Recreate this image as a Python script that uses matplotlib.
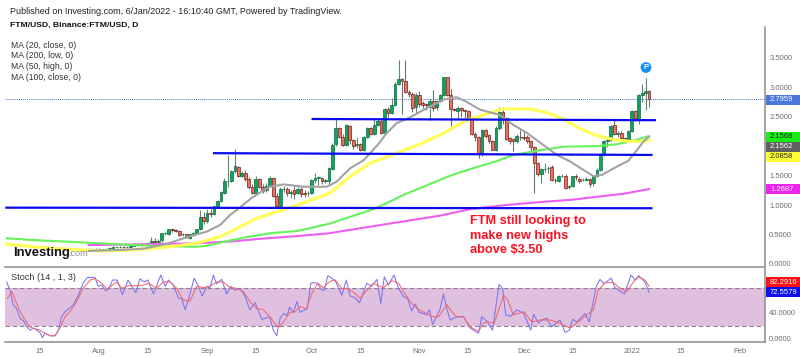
import matplotlib
matplotlib.use("Agg")
import matplotlib.pyplot as plt
from matplotlib.patches import Rectangle

plt.rcParams['font.family'] = ['Liberation Sans', 'DejaVu Sans']

# ---------- data (days counted from 15 Jul 2021) ----------
first_day = 14
opens = [.25,.26,.25,.26,.25,.25,.26,.26,.28,.28,.29,.28,.29,.31,.33,.32,.34,.33,
 .35,.39,.38,.40,.52,.50,.59,.58,.56,.50,.50,.44,.49,.52,.59,.80,.72,.87,.85,
 .98,1.07,1.21,1.40,1.41,1.57,1.65,1.50,1.55,1.44,1.31,1.21,1.44,1.31,1.25,1.33,1.45,1.16,.98,1.27,1.27,1.21,1.25,1.20,1.28,1.21,1.20,1.21,1.42,1.46,1.46,1.40,1.40,
 1.61,2.03,2.30,2.16,2.02,2.34,2.10,2.02,2.03,1.93,2.15,2.30,2.21,2.36,2.43,2.23,2.63,2.56,2.70,3.05,3.14,3.11,2.92,2.88,2.66,2.87,2.73,2.72,2.66,2.77,2.66,2.77,2.87,3.17,2.87,2.63,2.60,2.64,2.62,2.60,2.46,2.21,2.15,1.86,2.27,2.18,2.08,1.94,2.31,2.58,2.48,2.13,2.12,2.09,2.16,2.15,2.15,2.08,1.99,1.72,
 1.53,1.61,1.62,1.65,1.43,1.41,1.49,1.49,1.30,1.32,1.49,1.44,1.42,1.43,1.44,1.37,1.49,1.60,1.86,2.08,2.11,2.35,2.20,2.23,2.13,2.11,2.26,2.60,2.45,2.87,2.90,2.94]
closes = [.26,.25,.26,.25,.25,.26,.26,.28,.28,.29,.28,.29,.31,.33,.32,.34,.33,.35,
 .39,.38,.39,.52,.52,.59,.58,.56,.49,.50,.45,.50,.53,.59,.80,.72,.87,.85,.98,
 1.07,1.22,1.40,1.41,1.57,1.67,1.50,1.55,1.44,1.31,1.21,1.44,1.31,1.24,1.33,1.45,1.16,.98,1.27,1.27,1.21,1.22,1.18,1.27,1.19,1.19,1.20,1.42,1.46,1.46,1.40,1.42,1.62,
 2.02,2.30,2.16,2.02,2.35,2.10,2.00,2.02,1.93,2.15,2.30,2.21,2.36,2.43,2.23,2.63,2.56,2.70,3.05,3.14,3.10,2.92,2.88,2.64,2.87,2.71,2.69,2.70,2.77,2.65,2.77,2.87,3.17,2.87,2.63,2.61,2.64,2.61,2.60,2.47,2.21,2.15,1.86,2.27,2.17,2.08,1.94,2.31,2.58,2.48,2.12,2.09,2.08,2.17,2.15,2.14,2.08,1.99,1.72,1.53,
 1.61,1.61,1.63,1.43,1.42,1.49,1.50,1.29,1.32,1.49,1.47,1.40,1.43,1.44,1.36,1.49,1.60,1.86,2.08,2.11,2.34,2.20,2.23,2.13,2.11,2.26,2.60,2.48,2.87,2.90,2.94,2.80]
highs = [.27,.27,.27,.27,.26,.27,.28,.30,.29,.31,.30,.31,.33,.35,.35,.36,.36,.37,
 .46,.44,.43,.53,.55,.60,.61,.60,.57,.52,.51,.51,.55,.60,.92,.88,.94,.94,.99,
 1.09,1.24,1.45,1.85,1.60,1.95,1.67,1.58,1.60,1.48,1.36,1.50,1.46,1.35,1.38,1.50,1.47,1.20,1.30,1.33,1.30,1.25,1.32,1.30,1.30,1.25,1.24,1.44,1.54,1.50,1.48,1.44,1.64,
 2.05,2.46,2.33,2.20,2.37,2.36,2.12,2.15,2.05,2.17,2.32,2.33,2.46,2.46,2.46,2.65,2.66,2.82,3.08,3.47,3.16,3.47,2.95,2.92,2.90,2.93,2.76,2.74,2.80,2.95,2.79,2.89,3.17,3.18,2.97,2.65,2.68,2.66,2.63,2.61,2.48,2.24,2.17,2.29,2.29,2.20,2.10,2.34,2.66,2.66,2.50,2.16,2.14,2.20,2.27,2.25,2.18,2.10,2.00,1.73,
 1.63,1.72,1.66,1.68,1.46,1.51,1.53,1.52,1.34,1.50,1.52,1.48,1.46,1.48,1.46,1.50,1.62,1.88,2.10,2.15,2.36,2.44,2.26,2.25,2.15,2.28,2.62,2.62,2.89,3.05,3.16,2.95]
lows = [.24,.24,.24,.24,.24,.24,.25,.25,.27,.27,.27,.27,.28,.30,.31,.31,.32,.32,
 .33,.36,.37,.38,.49,.49,.55,.54,.48,.48,.44,.42,.47,.50,.57,.68,.70,.80,.83,
 .96,1.05,1.19,1.30,1.39,1.55,1.48,1.48,1.40,1.28,1.18,1.19,1.29,1.20,1.22,1.30,1.14,.96,.96,1.22,1.15,1.12,1.10,1.18,1.14,1.14,1.16,1.19,1.38,1.34,1.36,1.37,1.36,
 1.60,2.00,2.13,2.00,2.00,2.03,1.95,1.97,1.91,1.91,2.13,2.19,2.19,2.34,2.21,2.21,2.50,2.54,2.68,3.03,2.55,2.90,2.84,2.58,2.57,2.67,2.64,2.62,2.44,2.60,2.62,2.75,2.85,2.85,2.34,2.60,2.46,2.50,2.47,2.44,2.19,2.08,1.80,1.83,2.13,2.05,1.93,1.92,2.28,2.38,2.10,2.04,1.92,2.05,2.10,2.10,2.05,1.92,1.21,1.50,
 1.37,1.56,1.55,1.41,1.38,1.39,1.47,1.27,1.28,1.30,1.42,1.37,1.40,1.40,1.31,1.33,1.47,1.58,1.84,1.98,2.08,2.18,2.15,2.10,2.05,2.08,2.24,2.42,2.38,2.75,2.62,2.67]

ma20_days = [14,24,30,34,38,42,48,51.7,54.6,57.5,61,66,70,75.7,82.4,85.3,89,93,97,99.6,102.5,106.4,111,116,119.7,122.6,126.4,132,136,140,144.6,148.5,152.3,156,159,161.4,165.7,169,171.5,173.4,175]
ma20_vals = [.22,.24,.26,.31,.37,.45,.55,.66,.83,.96,1.13,1.31,1.35,1.31,1.31,1.40,1.62,1.76,2.02,2.22,2.39,2.49,2.64,2.79,2.83,2.75,2.62,2.53,2.36,2.22,2.02,1.85,1.74,1.60,1.49,1.51,1.65,1.75,1.93,2.08,2.16]
ma50_days = [-10,-2,8,17,27,35.5,45,51.7,56.5,62,69,74,83.3,89,94.8,102.5,109,116,122.6,127.4,133,140.8,145.6,150.4,155,159.8,164.6,169.4,173,175]
ma50_vals = [.34,.29,.25,.22,.235,.28,.35,.46,.60,.77,.90,1.0,1.20,1.48,1.71,1.88,2.03,2.22,2.44,2.53,2.63,2.63,2.57,2.46,2.30,2.18,2.115,2.08,2.08,2.10]
ma100_days = [-9.5,-2,8,17,27,36,45,48,54,59,66,74,83,95.8,99.6,104.4,111,117,123.6,131,136,143.7,150.4,160,165.7,171.5,175]
ma100_vals = [.435,.405,.377,.35,.32,.30,.29,.31,.39,.45,.52,.56,.68,.93,1.03,1.17,1.33,1.48,1.61,1.74,1.85,1.93,1.99,2.00,2.03,2.11,2.17]
ma200_days = [14,27,35.5,45,54.6,64,73.5,83,100,115,123.6,134,143.7,153,160,167.6,175]
ma200_vals = [.32,.33,.34,.35,.38,.43,.47,.52,.68,.82,.93,1.0,1.05,1.09,1.14,1.19,1.27]

k_days = [-9.6,-8.6,-7.7,-6.7,-5.7,-4.8,-3.8,-2.9,-1.9,-1,0,.7,1.4,2.9,4.3,5.3,6.2,7.2,8.1,9.6,11,12.4,13.6,15.8,16.7,17.7,18.9,19.9,20.8,22.2,23.7,25.3,27.5,28.7,29.9,31,32.6,34.7,36,36.9,38.3,39.8,40.7,41.7,42.6,44.3,45.5,46.6,47.9,48.8,49.8,50.7,52.2,53.6,54.8,56,57.5,58.9,60.3,61.8,63.7,66,67,68,69,70,71,71.7,72.8,73.8,74.7,76.8,77.8,78.6,79.7,81,81.7,82.7,84.8,86.7,88,89.1,90.5,91.8,93.9,95.3,96.8,97.9,98.9,100.1,101.7,103,104.4,105.6,106.8,107.8,108.9,110.2,111.1,111.9,112.8,114.9,115.9,116.9,117.8,119.7,121.7,123.6,126,126.9,128.4,130,131.9,132.9,133.8,135.3,137,139,141,141.8,143.2,144.2,145.6,147,149.4,150.9,152.1,153,154.2,156.6,157.8,159.8,160.9,162,164.1,165.2,167.9,169.8,171,172,173.8,175]
k_vals = [89,76,53,47,31,28,18,13,16,13,9,1,8,4,4,13,34,42,46,53,68,87,96,96,82,84,75,79,92,92,69,92,72,94,89,92,70,100,82,92,84,63,63,45,60,95,82,67,82,79,100,86,93,70,82,76,79,66,45,56,30,34,13,4,32,39,36,49,41,58,41,47,87,88,87,76,76,99,91,68,92,67,64,56,87,82,93,55,97,84,100,79,66,63,43,54,41,39,37,45,22,45,70,47,29,34,34,16,8,34,27,13,85,79,37,35,45,39,13,38,24,29,32,18,29,9,13,30,26,39,26,82,93,86,95,80,70,100,92,99,89,72.56]
d_days = [-9.4,-8,-7.1,-5.7,-4.3,-2.9,-1.4,0,1.4,2.9,4.3,5.7,7.2,8.6,10.5,12.4,14.4,15.8,17.7,19.2,20.6,22,23.5,25.3,27.2,29.7,31.2,33.5,35.4,37.4,39.3,41.2,43.1,45,46.9,48.8,50.7,52.6,54.6,56.5,58.4,60.3,62.3,64.2,66,68.5,70.4,71.8,73.3,74.7,76.6,78.1,79.8,81.4,83.3,84.8,86.7,88.6,90.5,92,93.9,95.8,97.2,98.7,101.1,103,104.4,106.8,108.7,111.1,113,114.5,116.9,118.3,119.7,121.7,123.6,126,127.4,128.8,130.5,133.2,134.3,136,139,141.3,143.7,146.5,149.4,152.3,154.2,157.1,159,160.4,162.4,164.7,166.7,168.6,170.5,172,173.8,175]
d_vals = [63,74,60,42,29,18,15,13,8,4,4,16,34,42,58,79,92,94,87,78,83,89,79,83,83,84,87,79,89,89,79,60,59,82,80,82,89,89,80,79,74,58,47,45,34,17,29,41,42,50,47,71,87,80,90,92,79,78,71,63,76,87,83,80,91,87,74,55,46,39,34,34,53,42,34,34,18,11,24,26,24,68,61,37,42,26,29,29,24,16,24,37,45,76,88,88,79,74,89,97,92,82.29]

ytick_main = [0.0, 0.5, 1.0, 1.5, 2.5, 3.0, 3.5]
ytick_stoch = [0, 40]
xtick_days = [0, 17, 31, 48, 62, 78, 92, 109, 123, 139, 153, 170, 184, 201]
xtick_labels = ['15', 'Aug', '15', 'Sep', '15', 'Oct', '15', 'Nov', '15', 'Dec', '15', '2022', '15', 'Feb']
last_price = 2.7959
level_top = ([78, 177], [2.46, 2.44])
level_mid = ([49.7, 176], [1.88, 1.85])
level_low = ([-10, 176], [.955, .945])
band = (20, 80)

# ---------- layout ----------
W, H = 800, 357
fig = plt.figure(figsize=(W/100, H/100), dpi=100, facecolor='white')
def rect(l, t, r, b):
    return [l/W, 1-b/H, (r-l)/W, (b-t)/H]
ax = fig.add_axes(rect(5, 27, 765, 266.5))
st = fig.add_axes(rect(5, 268, 765, 342.3))
xl = (-10.06, 208.3)
ax.set_xlim(xl); st.set_xlim(xl)
ax.set_ylim(-0.044, 4.022)
st.set_ylim(-6.3, 111)

for a in (ax, st):
    for s in ('top', 'left'):
        a.spines[s].set_visible(False)
    for s in ('right', 'bottom'):
        a.spines[s].set_color('#8c8c8c')
        a.spines[s].set_linewidth(1.1)
    a.yaxis.tick_right()
    a.tick_params(axis='both', length=0, labelsize=5.5, labelcolor='#6e6e6e', pad=3)
st.tick_params(axis='x', pad=4)
ax.set_xticks([])
ax.set_yticks(ytick_main, [f'{v:.4f}' for v in ytick_main])
st.set_yticks(ytick_stoch, [f'{v:.4f}' for v in ytick_stoch])
st.set_xticks(xtick_days, xtick_labels)

# ---------- candles ----------
GREEN, RED = '#10a35f', '#ee6f5e'
for i, (o, h, l, c) in enumerate(zip(opens, highs, lows, closes)):
    d = first_day + i
    up = c >= o
    ax.plot([d, d], [l, h], color='#5d8a72' if up else '#66756a', lw=0.8, zorder=2, solid_capstyle='butt')
    ax.bar(d, max(abs(c-o), .008), bottom=min(o, c), width=0.8,
           color=GREEN if up else RED, edgecolor='#0b6b3f' if up else '#6e1f18', linewidth=0.5, zorder=3)

# ---------- moving averages ----------
ax.plot(ma200_days, ma200_vals, color='#ee5ff0', lw=1.5, zorder=4)
ax.plot(ma100_days, ma100_vals, color='#66f25a', lw=1.5, zorder=4)
ax.plot(ma50_days, ma50_vals, color='#ffff55', lw=2.2, zorder=4)
ax.plot(ma20_days, ma20_vals, color='#a3a3a3', lw=1.5, zorder=5)

# ---------- levels ----------
for xs, ys in (level_top, level_mid, level_low):
    ax.plot(xs, ys, color='#0a0aee', lw=1.6, zorder=6, solid_capstyle='butt')
ax.axhline(last_price, color='#4a6fd0', lw=0.7, ls=(0, (1, 1)), zorder=1)

# ---------- stochastic ----------
st.axhspan(*band, color='#dfc0de', lw=0, zorder=1)
for v in band:
    st.axhline(v, color='#8e8290', lw=0.8, ls=(0, (4, 2.5)), zorder=2)
st.plot(k_days, k_vals, color='#7a74f0', lw=0.75, zorder=3)
st.plot(d_days, d_vals, color='#f4666e', lw=0.75, zorder=4)

# ---------- figure texts ----------
def ftext(x, y, s, **kw):
    kw.setdefault('va', 'center')
    return fig.text(x/W, 1-y/H, s, **kw)

ftext(10, 11, 'Published on Investing.com, 6/Jan/2022 - 16:10:40 GMT, Powered by TradingView.', fontsize=6.45, color='#222222')
ftext(10, 25.5, 'FTM/USD, Binance:FTM/USD, D', fontsize=6.1, fontweight='bold', color='#111111')
for y, s in zip((46, 56, 66.5, 77), ('MA (20, close, 0)', 'MA (200, low, 0)', 'MA (50, high, 0)', 'MA (100, close, 0)')):
    ftext(11, y, s, fontsize=6.2, color='#333333')
ftext(11, 277, 'Stoch (14 , 1, 3)', fontsize=6.6, color='#333333')
ftext(13, 253, 'Investing', fontsize=9.4, fontweight='bold', color='#111111')
ftext(68, 254, '.com', fontsize=6.6, color='#8a8a8a')
for y, s in zip((221, 236, 250), ('FTM still looking to', 'make new highs', 'above $3.50')):
    ftext(470, y, s, fontsize=9.2, fontweight='bold', color='#ff1020')

# price tags
tags = [(99.5, '2.7959', '#4a76dd', 'white'), (137, '2.1568', '#16ee16', '#222222'),
        (147, '2.1562', '#616161', 'white'), (156.7, '2.0858', '#ffff33', '#222222'),
        (189.3, '1.2687', '#ee22ee', 'white'), (282.3, '82.2916', '#ff1010', 'white'),
        (292.3, '72.5579', '#1010ee', 'white')]
for y, s, bg, fg in tags:
    fig.add_artist(Rectangle((766/W, 1-(y+5)/H), 34/W, 10/H, transform=fig.transFigure, color=bg, lw=0, zorder=8))
    ftext(770, y, s, fontsize=5.5, color=fg, zorder=9)

# pivot marker
ftext(646, 67.5, 'P', fontsize=5.5, fontweight='bold', color='white', ha='center', zorder=9,
      bbox=dict(boxstyle='circle,pad=0.25', fc='#1a90f0', ec='none'))

fig.savefig('out.png', dpi=100)
